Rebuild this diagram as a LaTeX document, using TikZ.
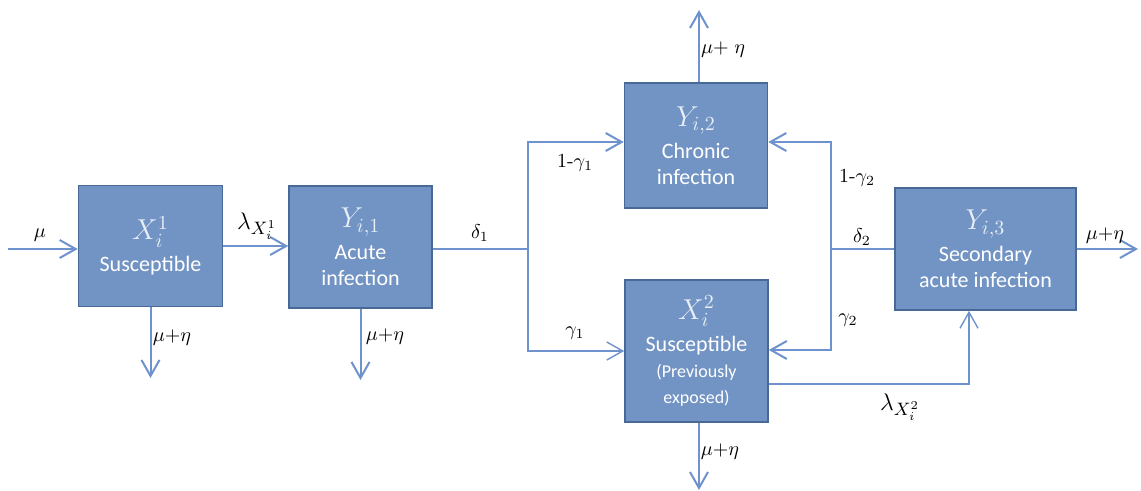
\documentclass[tikz,border=0pt]{standalone}
\usepackage{fontspec}
\setsansfont{Carlito}
\usetikzlibrary{arrows.meta}
\definecolor{boxfill}{RGB}{114,148,196}
\definecolor{boxline}{RGB}{72,104,150}
\definecolor{boxtitle}{RGB}{232,238,246}
\definecolor{flowblue}{RGB}{110,146,205}

\begin{document}
\begin{tikzpicture}[x=0.5pt,y=-0.5pt,font=\sffamily,
  box/.style={draw=boxline,line width=0.8pt,fill=boxfill,text=white,align=center,inner sep=0pt,font=\sffamily\fontsize{11}{13}\selectfont},
  flow/.style={draw=flowblue,line width=1pt,-{Straight Barb[length=8pt,width=9pt]}},
  link/.style={draw=flowblue,line width=1pt},
  rate/.style={font=\fontsize{10}{11}\selectfont}]
      \useasboundingbox (0,0) rectangle (1141,491);

      % compartments
      \node[box,minimum width=72pt,minimum height=60.5pt] (sus1) at (150.5,246)
        {\textcolor{boxtitle}{\fontsize{14}{15}\selectfont$X_i^1$}\\[3pt]Susceptible};
      \node[box,minimum width=71.5pt,minimum height=61pt] (acute) at (360.5,247)
        {\textcolor{boxtitle}{\fontsize{14}{15}\selectfont$Y_{i,1}$}\\[3pt]Acute\\infection};
      \node[box,minimum width=71.5pt,minimum height=62.5pt] (chronic) at (696,145.5)
        {\textcolor{boxtitle}{\fontsize{14}{15}\selectfont$Y_{i,2}$}\\[3pt]Chronic\\infection};
      \node[box,minimum width=71.5pt,minimum height=71pt] (sus2) at (696.5,351)
        {\textcolor{boxtitle}{\fontsize{14}{15}\selectfont$X_i^2$}\\[3pt]Susceptible\\
         {\fontsize{9}{11}\selectfont(Previously}\\{\fontsize{9}{11}\selectfont exposed)}};
      \node[box,minimum width=90.5pt,minimum height=61pt] (acute2) at (985.5,249)
        {\textcolor{boxtitle}{\fontsize{14}{15}\selectfont$Y_{i,3}$}\\[3pt]Secondary\\acute infection};

      % junctions and free ends
      \coordinate (muin) at (8,249);
      \coordinate (d1) at (150.5,378);
      \coordinate (d2) at (360.5,380);
      \coordinate (j1) at (528,249);
      \coordinate (jtop) at (528,142);
      \coordinate (jbot) at (528,351);
      \coordinate (j2) at (831,249);
      \coordinate (rtop) at (831,142);
      \coordinate (rbot) at (831,350);
      \coordinate (up2) at (699,10);
      \coordinate (d3) at (699,490);
      \coordinate (bend) at (969,384);
      \coordinate (out3) at (1138,249);

      \draw[flow] (muin) -- (muin -| sus1.west);
      \draw[flow] (sus1.east) -- (acute.west |- sus1.east);
      \draw[flow] (sus1.south) -- (d1);
      \draw[flow] (acute.south) -- (d2);
      \draw[link] (acute.east |- j1) -- (j1);
      \draw[flow] (j1) -- (jtop) -- (jtop -| chronic.west);
      \draw[flow,line width=0.7pt] (j1) -- (jbot) -- (jbot -| sus2.west);
      \draw[flow] (chronic.north -| up2) -- (up2);
      \draw[flow] (sus2.south -| d3) -- (d3);
      \draw[link] (acute2.west |- j2) -- (j2);
      \draw[flow] (j2) -- (rtop) -- (rtop -| chronic.east);
      \draw[flow] (j2) -- (rbot) -- (rbot -| sus2.east);
      \draw[flow,line width=0.7pt] (sus2.east |- bend) -- (bend) -- (bend |- acute2.south);
      \draw[flow] (acute2.east |- out3) -- (out3);

      % rates
      \node[rate] (rmu) at (40,235) {$\mu$};
      \node[rate,font=\fontsize{13}{14}\selectfont] (rlam1) at (257,226) {$\lambda_{X_i^1}$};
      \node[rate] (rout1) at (172,338) {$\mu{+}\eta$};
      \node[rate] (rout2) at (385,337) {$\mu{+}\eta$};
      \node[rate] (rdel1) at (480,233) {$\delta_1$};
      \node[rate] (rchr1) at (575,163) {$1$-$\gamma_1$};
      \node[rate] (rgam1) at (575,333) {$\gamma_1$};
      \node[rate] (rout3) at (723,50) {$\mu{+}\;\eta$};
      \node[rate] (rout4) at (720,452) {$\mu{+}\eta$};
      \node[rate] (rchr2) at (857,178) {$1$-$\gamma_2$};
      \node[rate] (rdel2) at (862,237) {$\delta_2$};
      \node[rate] (rgam2) at (848,320) {$\gamma_2$};
      \node[rate,font=\fontsize{13}{14}\selectfont] (rlam2) at (900,407) {$\lambda_{X_i^2}$};
      \node[rate] (rout5) at (1105,236) {$\mu{+}\eta$};

   \end{tikzpicture}
\end{document}
